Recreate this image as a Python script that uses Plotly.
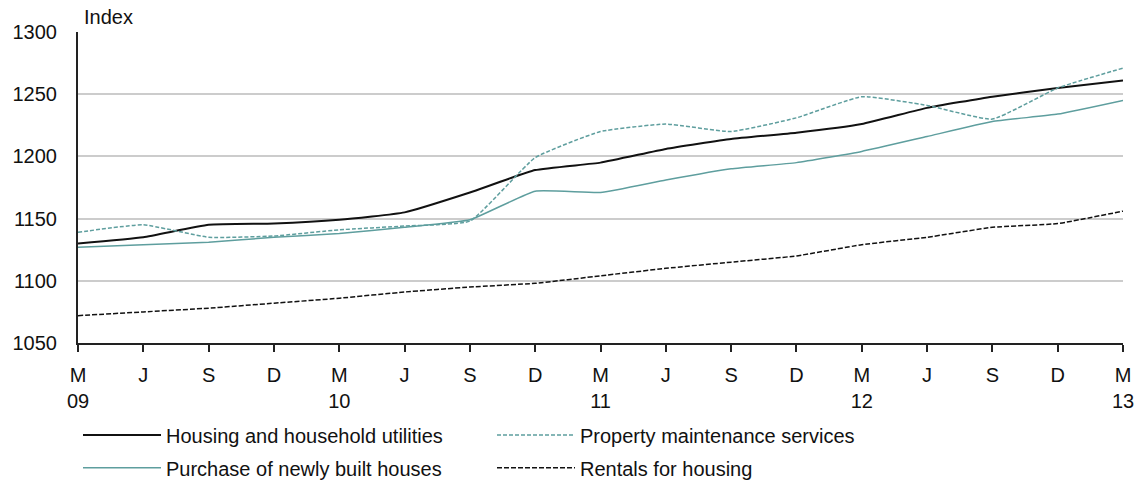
import plotly.graph_objects as go

quarters = ["M<br>09", "J", "S", "D", "M<br>10", "J", "S", "D", "M<br>11",
            "J", "S", "D", "M<br>12", "J", "S", "D", "M<br>13"]

housing = [1130, 1135, 1145, 1146, 1149, 1155, 1171, 1189, 1195,
           1206, 1214, 1219, 1226, 1239, 1248, 1255, 1261]
maintenance = [1139, 1145, 1135, 1136, 1141, 1144, 1148, 1199, 1220,
               1226, 1220, 1231, 1248, 1241, 1230, 1255, 1271]
new_houses = [1127, 1129, 1131, 1135, 1138, 1143, 1149, 1172, 1171,
              1181, 1190, 1195, 1204, 1216, 1228, 1234, 1245]
rentals = [1072, 1075, 1078, 1082, 1086, 1091, 1095, 1098, 1104,
           1110, 1115, 1120, 1129, 1135, 1143, 1146, 1156]

TEAL = "#5e9e9e"
BLACK = "#111111"
x = list(range(len(quarters)))

fig = go.Figure()
# legend = first row, legend2 = second row
for name, ys, color, dash, width, leg in [
    ("Housing and household utilities", housing, BLACK, "solid", 2, "legend"),
    ("Property maintenance services", maintenance, TEAL, "4px,2px", 1.5, "legend"),
    ("Purchase of newly built houses", new_houses, TEAL, "solid", 1.5, "legend2"),
    ("Rentals for housing", rentals, BLACK, "5px,2px", 1.5, "legend2"),
]:
    fig.add_trace(go.Scatter(
        x=x, y=ys, mode="lines", name=name, legend=leg,
        line=dict(color=color, width=width, dash=dash, shape="spline", smoothing=0.4),
    ))

fig.add_annotation(text="Index", xref="paper", yref="paper", x=0.004, y=1.0,
                   xanchor="left", yanchor="bottom", yshift=2, showarrow=False,
                   font=dict(size=20, color=BLACK))

legend_style = dict(orientation="h", x=0.0, xanchor="left", yanchor="middle",
                    entrywidth=321, entrywidthmode="pixels",
                    itemwidth=78, font=dict(size=20, color=BLACK),
                    bgcolor="rgba(0,0,0,0)")

fig.update_layout(
    width=1146, height=499,
    margin=dict(l=76, r=15, t=32, b=143),
    paper_bgcolor="white", plot_bgcolor="white",
    font=dict(family="Liberation Sans, Arial, sans-serif", size=20, color=BLACK),
    showlegend=True,
    legend=dict(y=-0.296, **legend_style),
    legend2=dict(y=-0.401, **legend_style),
)
fig.update_xaxes(
    range=[0, 16], tickvals=x, ticktext=quarters, showgrid=False,
    showline=True, linecolor="#222", linewidth=2,
    ticks="outside", ticklen=7, tickcolor="#222", tickwidth=2,
    ticklabelstandoff=6, tickfont=dict(size=20),
)
fig.update_yaxes(
    range=[1050, 1300], dtick=50, showgrid=True, gridcolor="#cccccc", gridwidth=1.5,
    showline=True, linecolor="#222", linewidth=2, ticks="", zeroline=False,
    ticklabelstandoff=15, tickfont=dict(size=20),
)

# drop the default 8px page margin so the figure fills the window exactly
fig.write_html("out.html", config={"displayModeBar": False},
               post_script="document.body.style.margin = '0';")
